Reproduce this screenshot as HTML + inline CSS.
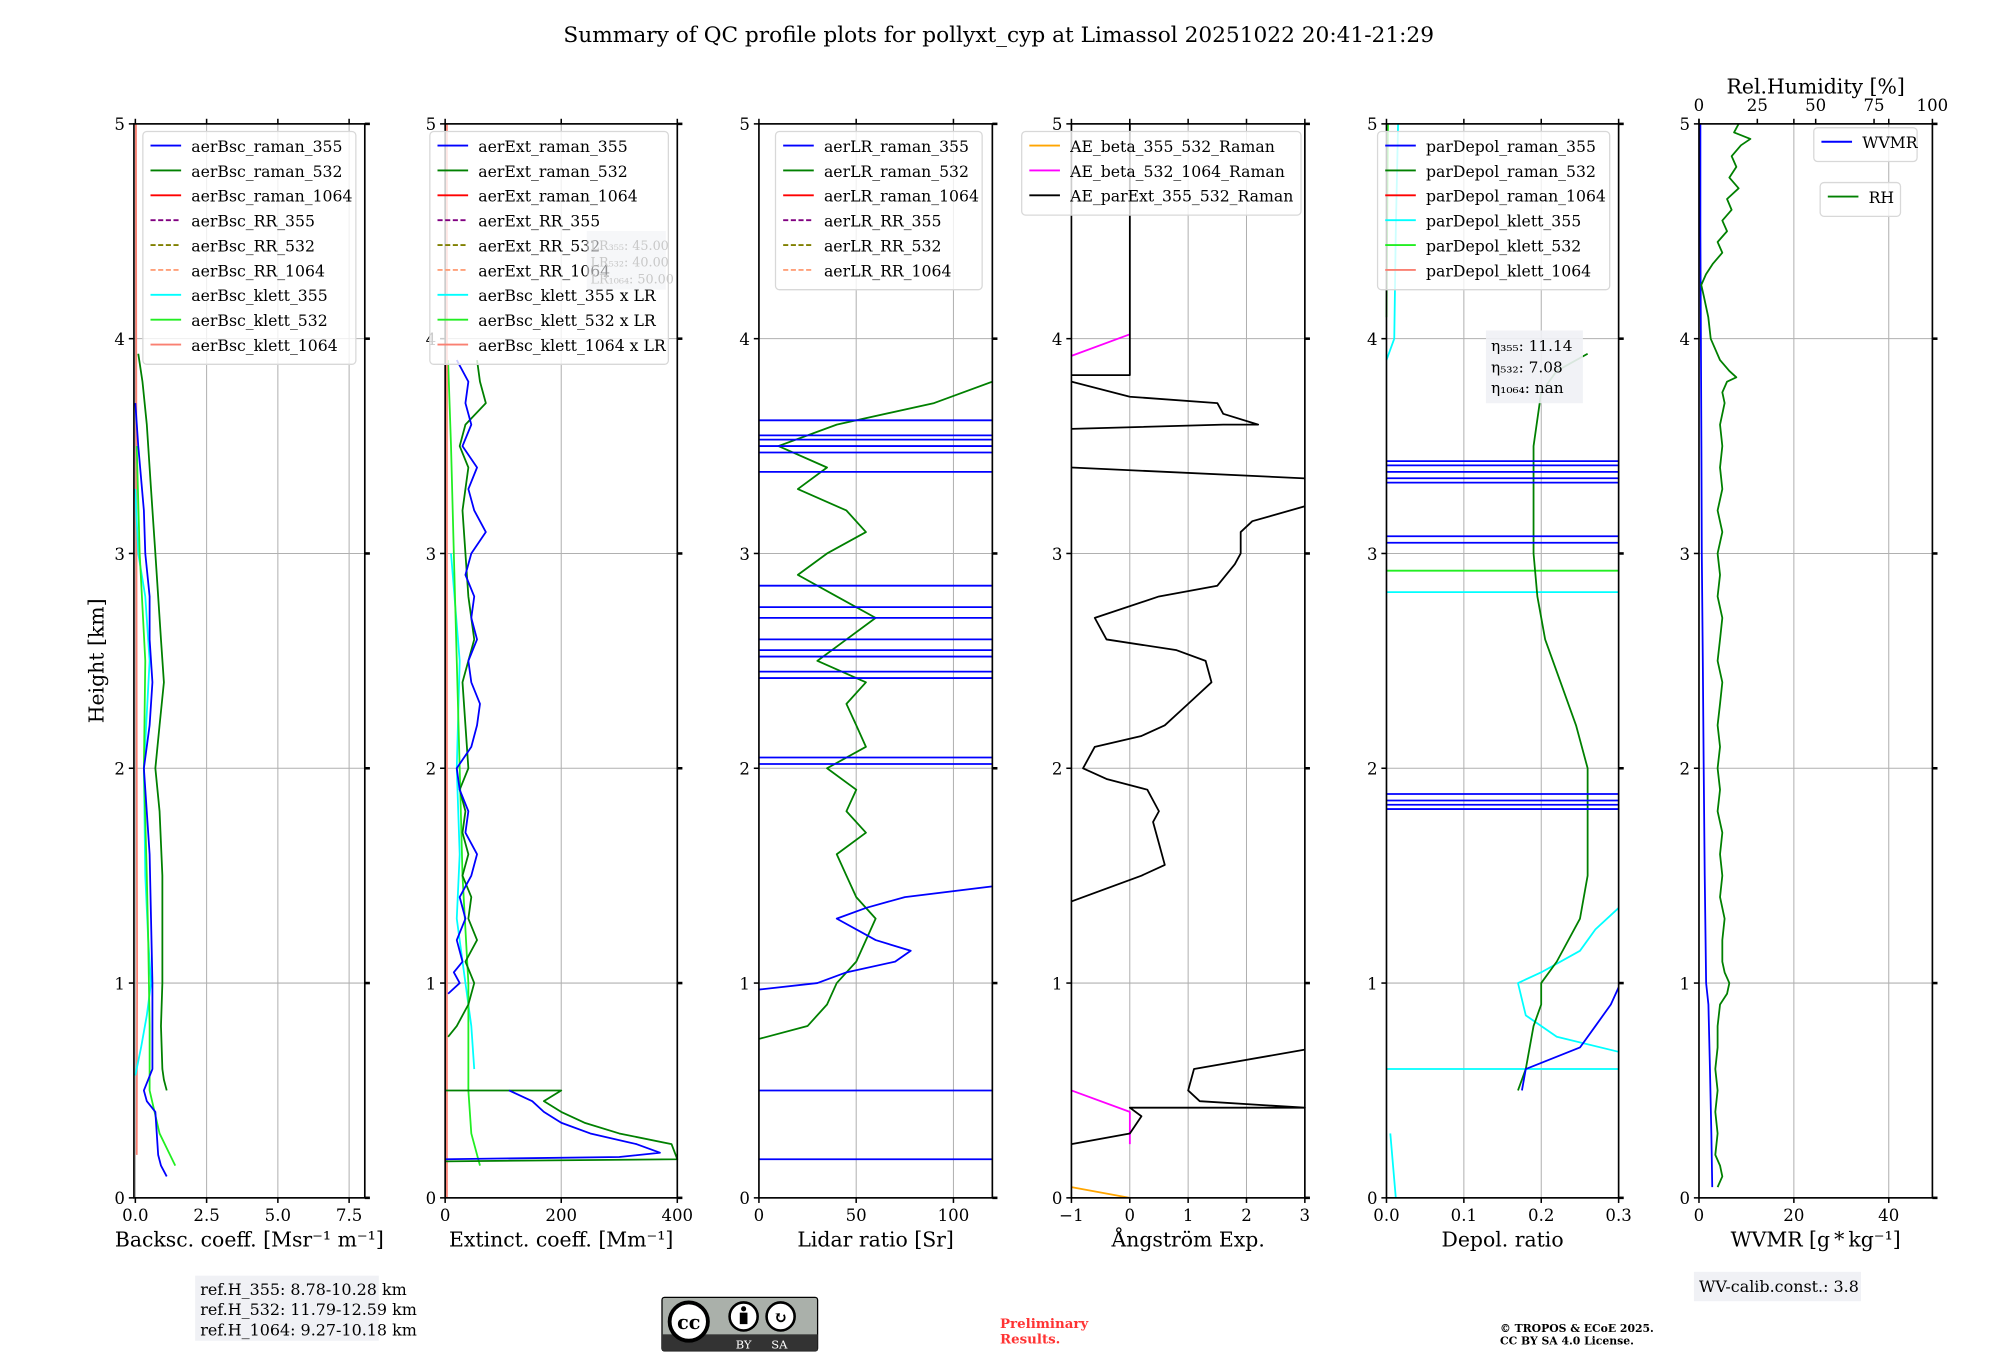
<!DOCTYPE html>
<html><head><meta charset="utf-8"><style>
html,body{margin:0;padding:0;background:#fff}
svg{display:block}
text{font-family:"DejaVu Serif","Liberation Serif",serif;fill:#000}
</style></head><body>
<svg id="fig" width="2000" height="1360" viewBox="0 0 1568 1066" xmlns="http://www.w3.org/2000/svg">
<text x="783" y="33" font-size="17" text-anchor="middle">Summary of QC profile plots for pollyxt_cyp at Limassol 20251022 20:41-21:29</text>
<text transform="translate(81,518) rotate(-90)" font-size="16" text-anchor="middle">Height [km]</text>
<g id="plots"></g>
<g>
<rect x="153" y="1000" width="144" height="51" fill="#f0f1f5"/>
<text x="157" y="1015" font-size="12.5">ref.H_355: 8.78-10.28 km</text>
<text x="157" y="1031" font-size="12.5">ref.H_532: 11.79-12.59 km</text>
<text x="157" y="1047" font-size="12.5">ref.H_1064: 9.27-10.18 km</text>
</g>
<g>
<rect x="1328" y="997" width="131" height="23" fill="#f0f1f5"/>
<text x="1332" y="1013" font-size="12.5">WV-calib.const.: 3.8</text>
</g>
<g>
<rect x="519" y="1017" width="122" height="42" rx="2" fill="#aab0aa" stroke="#000" stroke-width="1"/>
<rect x="519" y="1046" width="122" height="13" fill="#333"/>
<circle cx="540" cy="1036" r="15" fill="#fff" stroke="#000" stroke-width="3"/>
<text x="540" y="1042" font-size="15" font-weight="bold" text-anchor="middle" font-family="Liberation Sans">cc</text>
<circle cx="583" cy="1032" r="11" fill="#fff" stroke="#000" stroke-width="2"/>
<circle cx="583" cy="1026" r="2" fill="#000"/><rect x="580" y="1029" width="6" height="9" fill="#000"/>
<circle cx="612" cy="1032" r="11" fill="#fff" stroke="#000" stroke-width="2"/>
<text x="612" y="1037" font-size="13" font-weight="bold" text-anchor="middle" font-family="Liberation Sans">↻</text>
<text x="583" y="1057" font-size="9" style="fill:#fff" text-anchor="middle" font-family="Liberation Sans">BY</text>
<text x="611" y="1057" font-size="9" style="fill:#fff" text-anchor="middle" font-family="Liberation Sans">SA</text>
</g>
<text x="784" y="1041" font-size="10.5" font-weight="bold" style="fill:#ff3333">Preliminary</text>
<text x="784" y="1053" font-size="10.5" font-weight="bold" style="fill:#ff3333">Results.</text>
<text x="1176" y="1044" font-size="8.5" font-weight="bold">© TROPOS &amp; ECoE 2025.</text>
<text x="1176" y="1054" font-size="8.5" font-weight="bold">CC BY SA 4.0 License.</text>
</svg>
<script>
// ---- data ----
const heightTicks=[0,1,2,3,4,5];
// Panel 1 backscatter
const bsc355H=[0.1,0.15,0.2,0.3,0.4,0.45,0.5,0.6,0.8,1.0,1.3,1.6,2.0,2.2,2.4,2.6,2.8,3.0,3.2,3.5,3.7];
const bsc355V=[1.1,0.9,0.8,0.75,0.7,0.4,0.3,0.6,0.6,0.6,0.55,0.5,0.3,0.5,0.6,0.5,0.5,0.35,0.3,0.1,0.0];
const bsc532H=[0.5,0.55,0.6,0.8,1.0,1.5,1.8,2.0,2.2,2.4,2.6,2.8,3.0,3.3,3.6,3.8,3.93];
const bsc532V=[1.1,1.0,0.95,0.9,0.95,0.95,0.85,0.7,0.85,1.0,0.9,0.8,0.7,0.55,0.4,0.25,0.1];
const bscK532H=[0.15,0.3,0.5,0.8,1.2,1.5,2.0,2.5,3.0,3.5];
const bscK532V=[1.4,0.85,0.5,0.5,0.45,0.4,0.3,0.35,0.15,0.05];
const bscK355H=[0.57,0.7,0.85,1.0,1.2,1.5,2.0,2.5,2.8,3.0,3.3];
const bscK355V=[0.0,0.2,0.4,0.55,0.45,0.35,0.3,0.5,0.35,0.1,0.0];
const bscK1064H=[0.2,1.0,2.0,3.0,4.0,5.0];
const bscK1064V=[0.05,0.06,0.05,0.04,0.03,0.02];
// Panel 2 extinction
const ext355H=[0.18,0.19,0.21,0.25,0.3,0.35,0.4,0.45,0.5,null,0.95,1.0,1.05,1.1,1.2,1.3,1.4,1.5,1.6,1.7,1.8,1.9,2.0,2.1,2.2,2.3,2.4,2.5,2.6,2.7,2.8,2.9,3.0,3.1,3.2,3.3,3.4,3.5,3.6,3.7,3.8,3.9];
const ext355V=[0,300,370,330,250,200,170,150,110,null,5,25,15,30,20,35,25,45,55,35,40,25,20,45,55,60,45,40,55,45,50,35,45,70,50,40,55,30,45,35,40,20];
const ext532H=[0.17,0.18,0.25,0.3,0.35,0.4,0.45,0.5,0.5,null,0.75,0.8,0.9,1.0,1.1,1.2,1.3,1.4,1.5,1.6,1.7,1.8,1.9,2.0,2.2,2.4,2.6,2.8,3.0,3.2,3.4,3.5,3.6,3.7,3.8,3.9];
const ext532V=[0,400,390,300,240,200,170,200,0,null,5,20,40,50,35,55,40,45,30,40,30,35,25,40,35,30,50,40,35,30,40,25,35,70,60,55];
const extK532H=[0.15,0.3,0.5,1.0,1.5,2.0,2.5,3.0,3.5,3.9];
const extK532V=[60,45,40,40,30,25,20,15,10,5];
const extK355H=[0.6,0.8,1.0,1.3,1.6,2.0,2.5,3.0];
const extK355V=[50,45,35,20,25,20,25,10];
// Panel 3 lidar ratio
const lr355H=[0.18,0.18,null,0.5,0.5,null,0.97,1.0,1.05,1.1,1.15,1.2,1.3,1.35,1.4,1.45];
const lr355V=[0,120,null,0,120,null,0,30,45,70,78,60,40,55,75,120];
const lr532H=[0.74,0.8,0.9,1.0,1.1,1.2,1.3,1.4,1.5,1.6,1.7,1.8,1.9,2.0,2.1,2.2,2.3,2.4,2.5,2.6,2.7,2.8,2.9,3.0,3.1,3.2,3.3,3.4,3.5,3.6,3.7,3.8];
const lr532V=[0,25,35,40,50,55,60,50,45,40,55,45,50,35,55,50,45,55,30,45,60,40,20,35,55,45,20,35,10,40,90,120];
// Panel 4 Angstrom
const aeParH=[0.25,0.3,0.38,0.42,0.42,0.45,0.5,0.6,0.69,null,1.38,1.5,1.55,1.65,1.75,1.8,1.9,1.95,2.0,2.1,2.15,2.2,2.3,2.4,2.5,2.55,2.6,2.7,2.8,2.85,2.95,3.0,3.1,3.15,3.22,null,3.35,3.4,null,3.58,3.6,3.6,3.65,3.7,3.73,3.8,null,3.83,3.83,5.0];
const aeParV=[-1,0,0.2,0,3,1.2,1.0,1.1,3,null,-1,0.2,0.6,0.5,0.4,0.5,0.3,-0.4,-0.8,-0.6,0.2,0.6,1.0,1.4,1.3,0.8,-0.4,-0.6,0.5,1.5,1.8,1.9,1.9,2.1,3,null,3,-1,null,-1,1.6,2.2,1.6,1.5,0,-1,null,-1,0,0];
const aeB532H=[0.25,0.4,0.5,null,3.92,4.02];
const aeB532V=[0,0,-1,null,-1,0];
const aeB355H=[0.0,0.05];
const aeB355V=[0,-1];
// Panel 5 depol
const dep532H=[0.5,0.6,0.8,0.9,1.0,1.1,1.3,1.5,1.8,2.0,2.2,2.4,2.6,2.8,3.0,3.5,3.75,3.85,3.93];
const dep532V=[0.17,0.18,0.19,0.2,0.2,0.22,0.25,0.26,0.26,0.26,0.245,0.225,0.205,0.195,0.19,0.19,0.2,0.22,0.26];
const dep355H=[0.5,0.6,0.7,0.8,0.9,0.98];
const dep355V=[0.175,0.18,0.25,0.27,0.29,0.3];
const dep355Lines=[1.81,1.83,1.85,1.88,3.05,3.08,3.33,3.35,3.38,3.41,3.43];
const depK355H=[0.0,0.3,null,0.6,0.6,null,0.68,0.75,0.85,1.0,1.05,1.15,1.25,1.35,null,2.82,2.82,null,3.9,4.0,4.5,5.0];
const depK355V=[0.012,0.005,null,0,0.3,null,0.3,0.22,0.18,0.17,0.2,0.25,0.27,0.3,null,0,0.3,null,0.0,0.01,0.012,0.015];
const depK532H=[2.92,2.92,null,4.1,5.0];
const depK532V=[0,0.3,null,0,0.002];
// Panel 6 WV
const wvH=[0.05,0.3,0.6,0.9,1.0,1.5,2.0,2.5,3.0,3.5,4.0,4.5,5.0];
const wvV=[2.8,2.6,2.3,2.0,1.5,1.2,1.0,0.8,0.6,0.5,0.4,0.3,0.3];
const rhH=[0.05,0.1,0.15,0.2,0.3,0.4,0.5,0.6,0.7,0.8,0.9,0.95,1.0,1.05,1.1,1.2,1.3,1.4,1.5,1.6,1.7,1.8,1.9,2.0,2.1,2.2,2.3,2.4,2.5,2.6,2.7,2.8,2.9,3.0,3.1,3.2,3.3,3.4,3.5,3.6,3.7,3.75,3.8,3.82,3.85,3.9,4.0,4.1,4.2,4.25,4.3,4.35,4.4,4.45,4.5,4.55,4.6,4.65,4.7,4.75,4.8,4.85,4.9,4.93,4.96,5.0];
const rhV=[8,10,9,7,8,7,8,7,8,8,9,12,13,11,10,10,11,9,10,9,10,8,9,8,9,8,9,10,8,9,10,8,9,8,10,8,10,9,10,9,11,10,12,16,13,9,5,4,2,1,3,6,10,8,12,10,14,12,17,13,16,14,18,22,15,17];

// ---- layout ----
const yT=97,yB=939;
const panels=[
 {id:'backscatter',x0:105,x1:286,d:[-0.05,8.05],ticks:[0,2.5,5,7.5],tl:['0.0','2.5','5.0','7.5'],xl:'Backsc. coeff. [Msr\u207B\u00B9 m\u207B\u00B9]'},
 {id:'extinction',x0:349,x1:531,d:[0,400],ticks:[0,200,400],tl:['0','200','400'],xl:'Extinct. coeff. [Mm\u207B\u00B9]'},
 {id:'lidar-ratio',x0:595,x1:778,d:[0,120],ticks:[0,50,100],tl:['0','50','100'],xl:'Lidar ratio [Sr]'},
 {id:'angstrom',x0:840,x1:1023,d:[-1,3],ticks:[-1,0,1,2,3],tl:['\u22121','0','1','2','3'],xl:'\u00C5ngstr\u00F6m Exp.'},
 {id:'depol',x0:1087,x1:1269,d:[0,0.3],ticks:[0,0.1,0.2,0.3],tl:['0.0','0.1','0.2','0.3'],xl:'Depol. ratio'},
 {id:'wv',x0:1332,x1:1515,d:[0,49.2],ticks:[0,20,40],tl:['0','20','40'],xl:'WVMR [g\u2009*\u2009kg\u207B\u00B9]'}
];
const NS='http://www.w3.org/2000/svg';
const root=document.getElementById('plots');
function mk(tag,parent,attrs){const e=document.createElementNS(NS,tag);for(const k in attrs)e.setAttribute(k,attrs[k]);parent.appendChild(e);return e;}
const yS=h=>yB-(h/5)*(yB-yT);
function xS(p,v){return p.x0+(v-p.d[0])/(p.d[1]-p.d[0])*(p.x1-p.x0);}
function clip(p,x){return Math.max(p.x0,Math.min(p.x1,x));}

panels.forEach(p=>{
 const g=mk('g',root,{});
 
 
 p.g=g;
 p.ticks.forEach(t=>{const x=xS(p,t);const l=mk('line',g,{x1:x,x2:x,y1:yT,y2:yB,stroke:'#b0b0b0','stroke-width':0.8});
  
  });
 heightTicks.forEach(h=>{const y=yS(h);const l=mk('line',g,{x1:p.x0,x2:p.x1,y1:y,y2:y,stroke:'#b0b0b0','stroke-width':0.8});
  
  
  mk('line',g,{x1:p.x0-4,x2:p.x0,y1:y,y2:y,stroke:'#000','stroke-width':1.2});
  mk('line',g,{x1:p.x1,x2:p.x1+4,y1:y,y2:y,stroke:'#000','stroke-width':2});
  const lb=mk('text',g,{x:p.x0-7,y:y+5,'font-size':13,'text-anchor':'end'});lb.textContent=h;
  
  });
 p.ticks.forEach((t,i)=>{const x=xS(p,t);
  mk('line',g,{x1:x,x2:x,y1:yB,y2:yB+4,stroke:'#000','stroke-width':1.2});
  mk('line',g,{x1:x,x2:x,y1:yT-4,y2:yT,stroke:'#000','stroke-width':1.2});
  const lb=mk('text',g,{x:x,y:yB+18,'font-size':13,'text-anchor':'middle'});lb.textContent=p.tl[i];
  
  });
 const xl=mk('text',g,{x:(p.x0+p.x1)/2,y:yB+38,'font-size':16,'text-anchor':'middle'});xl.textContent=p.xl;
 
 
});

function series(p,H,V,color,name,w){
 let d='';let pen=false;
 for(let i=0;i<H.length;i++){if(H[i]===null){pen=false;continue;}
  const x=clip(p,xS(p,V[i])),y=yS(H[i]);d+=(pen?'L':'M')+x.toFixed(1)+' '+y.toFixed(1)+' ';pen=true;}
 const e=mk('path',p.g,{d:d,fill:'none',stroke:color,'stroke-width':w||1.4,'stroke-linejoin':'round'});
 
 
}
function hline(p,h,color,name){
 const y=yS(h);const e=mk('line',p.g,{x1:p.x0,x2:p.x1,y1:y,y2:y,stroke:color,'stroke-width':1.4});
 
 
}
const [P1,P2,P3,P4,P5,P6]=panels;
series(P1,bscK1064H,bscK1064V,'#fa8072','aerBsc-klett-1064-line');
series(P1,bscK355H,bscK355V,'#00ffff','aerBsc-klett-355-line');
series(P1,bscK532H,bscK532V,'#22ee22','aerBsc-klett-532-line');
series(P1,bsc532H,bsc532V,'#008000','aerBsc-raman-532-line');
series(P1,bsc355H,bsc355V,'#0000ff','aerBsc-raman-355-line');
series(P2,extK355H,extK355V,'#00ffff','ext-klett-355-line');
series(P2,extK532H,extK532V,'#22ee22','ext-klett-532-line');
series(P2,[0,5],[3,3],'#fa8072','ext-klett-1064-line');
series(P2,ext532H,ext532V,'#008000','aerExt-raman-532-line');
series(P2,ext355H,ext355V,'#0000ff','aerExt-raman-355-line');
series(P3,lr532H,lr532V,'#008000','aerLR-raman-532-line');
series(P3,lr355H,lr355V,'#0000ff','aerLR-raman-355-line');
[2.02,2.05,2.42,2.45,2.52,2.55,2.6,2.7,2.75,2.85,3.38,3.47,3.5,3.53,3.55,3.62].forEach(h=>hline(P3,h,'#0000ff','aerLR-raman-355-segment'));
series(P4,aeB355H,aeB355V,'#ffa500','AE-beta-355-532-line');
series(P4,aeB532H,aeB532V,'#ff00ff','AE-beta-532-1064-line');
series(P4,aeParH,aeParV,'#000000','AE-parExt-355-532-line');
series(P5,depK355H,depK355V,'#00ffff','parDepol-klett-355-line');
series(P5,depK532H,depK532V,'#22ee22','parDepol-klett-532-line');
series(P5,dep532H,dep532V,'#008000','parDepol-raman-532-line');
series(P5,dep355H,dep355V,'#0000ff','parDepol-raman-355-line');
dep355Lines.forEach(h=>hline(P5,h,'#0000ff','parDepol-raman-355-segment'));
series(P6,wvH,wvV,'#0000ff','wvmr-line');
const P6top={x0:P6.x0,x1:P6.x1,d:[0,100],g:P6.g};
series(P6top,rhH,rhV,'#008000','rh-line');

panels.forEach(p=>{const r=mk('rect',p.g,{x:p.x0,y:yT,width:p.x1-p.x0,height:yB-yT,fill:'none',stroke:'#000','stroke-width':1.3});
 
 });
[0,25,50,75,100].forEach(v=>{const x=xS(P6top,v);
 mk('line',P6.g,{x1:x,x2:x,y1:yT-4,y2:yT,stroke:'#000','stroke-width':1.2});
 const lb=mk('text',P6.g,{x:x,y:yT-10,'font-size':13,'text-anchor':'middle'});lb.textContent=v;
 
 });
const rt=mk('text',P6.g,{x:(P6.x0+P6.x1)/2,y:yT-24,'font-size':16,'text-anchor':'middle'});rt.textContent='Rel.Humidity [%]';



function legend(p,x,y,w,items,name){
 const g=mk('g',p.g,{});
 
 
 mk('rect',g,{x:x,y:y,width:w,height:items.length*19.5+7,rx:3,fill:'#fff','fill-opacity':0.8,stroke:'#d8d8d8'});
 items.forEach((it,i)=>{const yy=y+11+i*19.5;
  mk('line',g,{x1:x+6,x2:x+30,y1:yy,y2:yy,stroke:it[1],'stroke-width':1.5,'stroke-dasharray':it[2]?'4,2':'none'});
  const t=mk('text',g,{x:x+38,y:yy+5,'font-size':12.3});t.textContent=it[0];});
}
const d=true;
legend(P1,112,103,167,[['aerBsc_raman_355','#0000ff'],['aerBsc_raman_532','#008000'],['aerBsc_raman_1064','#ff0000'],['aerBsc_RR_355','#800080',d],['aerBsc_RR_532','#808000',d],['aerBsc_RR_1064','#ffa07a',d],['aerBsc_klett_355','#00ffff'],['aerBsc_klett_532','#22ee22'],['aerBsc_klett_1064','#fa8072']],'bsc-legend');
legend(P2,337,103,187,[['aerExt_raman_355','#0000ff'],['aerExt_raman_532','#008000'],['aerExt_raman_1064','#ff0000'],['aerExt_RR_355','#800080',d],['aerExt_RR_532','#808000',d],['aerExt_RR_1064','#ffa07a',d],['aerBsc_klett_355 x LR','#00ffff'],['aerBsc_klett_532 x LR','#22ee22'],['aerBsc_klett_1064 x LR','#fa8072']],'ext-legend');
legend(P3,608,103,162,[['aerLR_raman_355','#0000ff'],['aerLR_raman_532','#008000'],['aerLR_raman_1064','#ff0000'],['aerLR_RR_355','#800080',d],['aerLR_RR_532','#808000',d],['aerLR_RR_1064','#ffa07a',d]],'lr-legend');
legend(P4,801,103,219,[['AE_beta_355_532_Raman','#ffa500'],['AE_beta_532_1064_Raman','#ff00ff'],['AE_parExt_355_532_Raman','#000000']],'ae-legend');
legend(P5,1080,103,182,[['parDepol_raman_355','#0000ff'],['parDepol_raman_532','#008000'],['parDepol_raman_1064','#ff0000'],['parDepol_klett_355','#00ffff'],['parDepol_klett_532','#22ee22'],['parDepol_klett_1064','#fa8072']],'depol-legend');
legend(P6,1422,100,81,[['WVMR','#0000ff']],'wvmr-legend');
legend(P6,1427,143,63,[['RH','#008000']],'rh-legend');

const lrb=mk('g',P2.g,{});


mk('rect',lrb,{x:460,y:181,width:62,height:46,fill:'#f0f1f5','fill-opacity':0.6});
[['LR\u2083\u2085\u2085: 45.00',196],['LR\u2085\u2083\u2082: 40.00',209],['LR\u2081\u2080\u2086\u2084: 50.00',222]].forEach(a=>{const t=mk('text',lrb,{x:463,y:a[1],'font-size':10,style:'fill:#c8c8c8'});t.textContent=a[0];});
const eb=mk('g',P5.g,{});


mk('rect',eb,{x:1165,y:259,width:76,height:57,fill:'#f0f1f5','fill-opacity':0.9});
[['\u03B7\u2083\u2085\u2085: 11.14',275],['\u03B7\u2085\u2083\u2082: 7.08',292],['\u03B7\u2081\u2080\u2086\u2084: nan',308]].forEach(a=>{const t=mk('text',eb,{x:1169,y:a[1],'font-size':12});t.textContent=a[0];});
</script>
</body></html>
